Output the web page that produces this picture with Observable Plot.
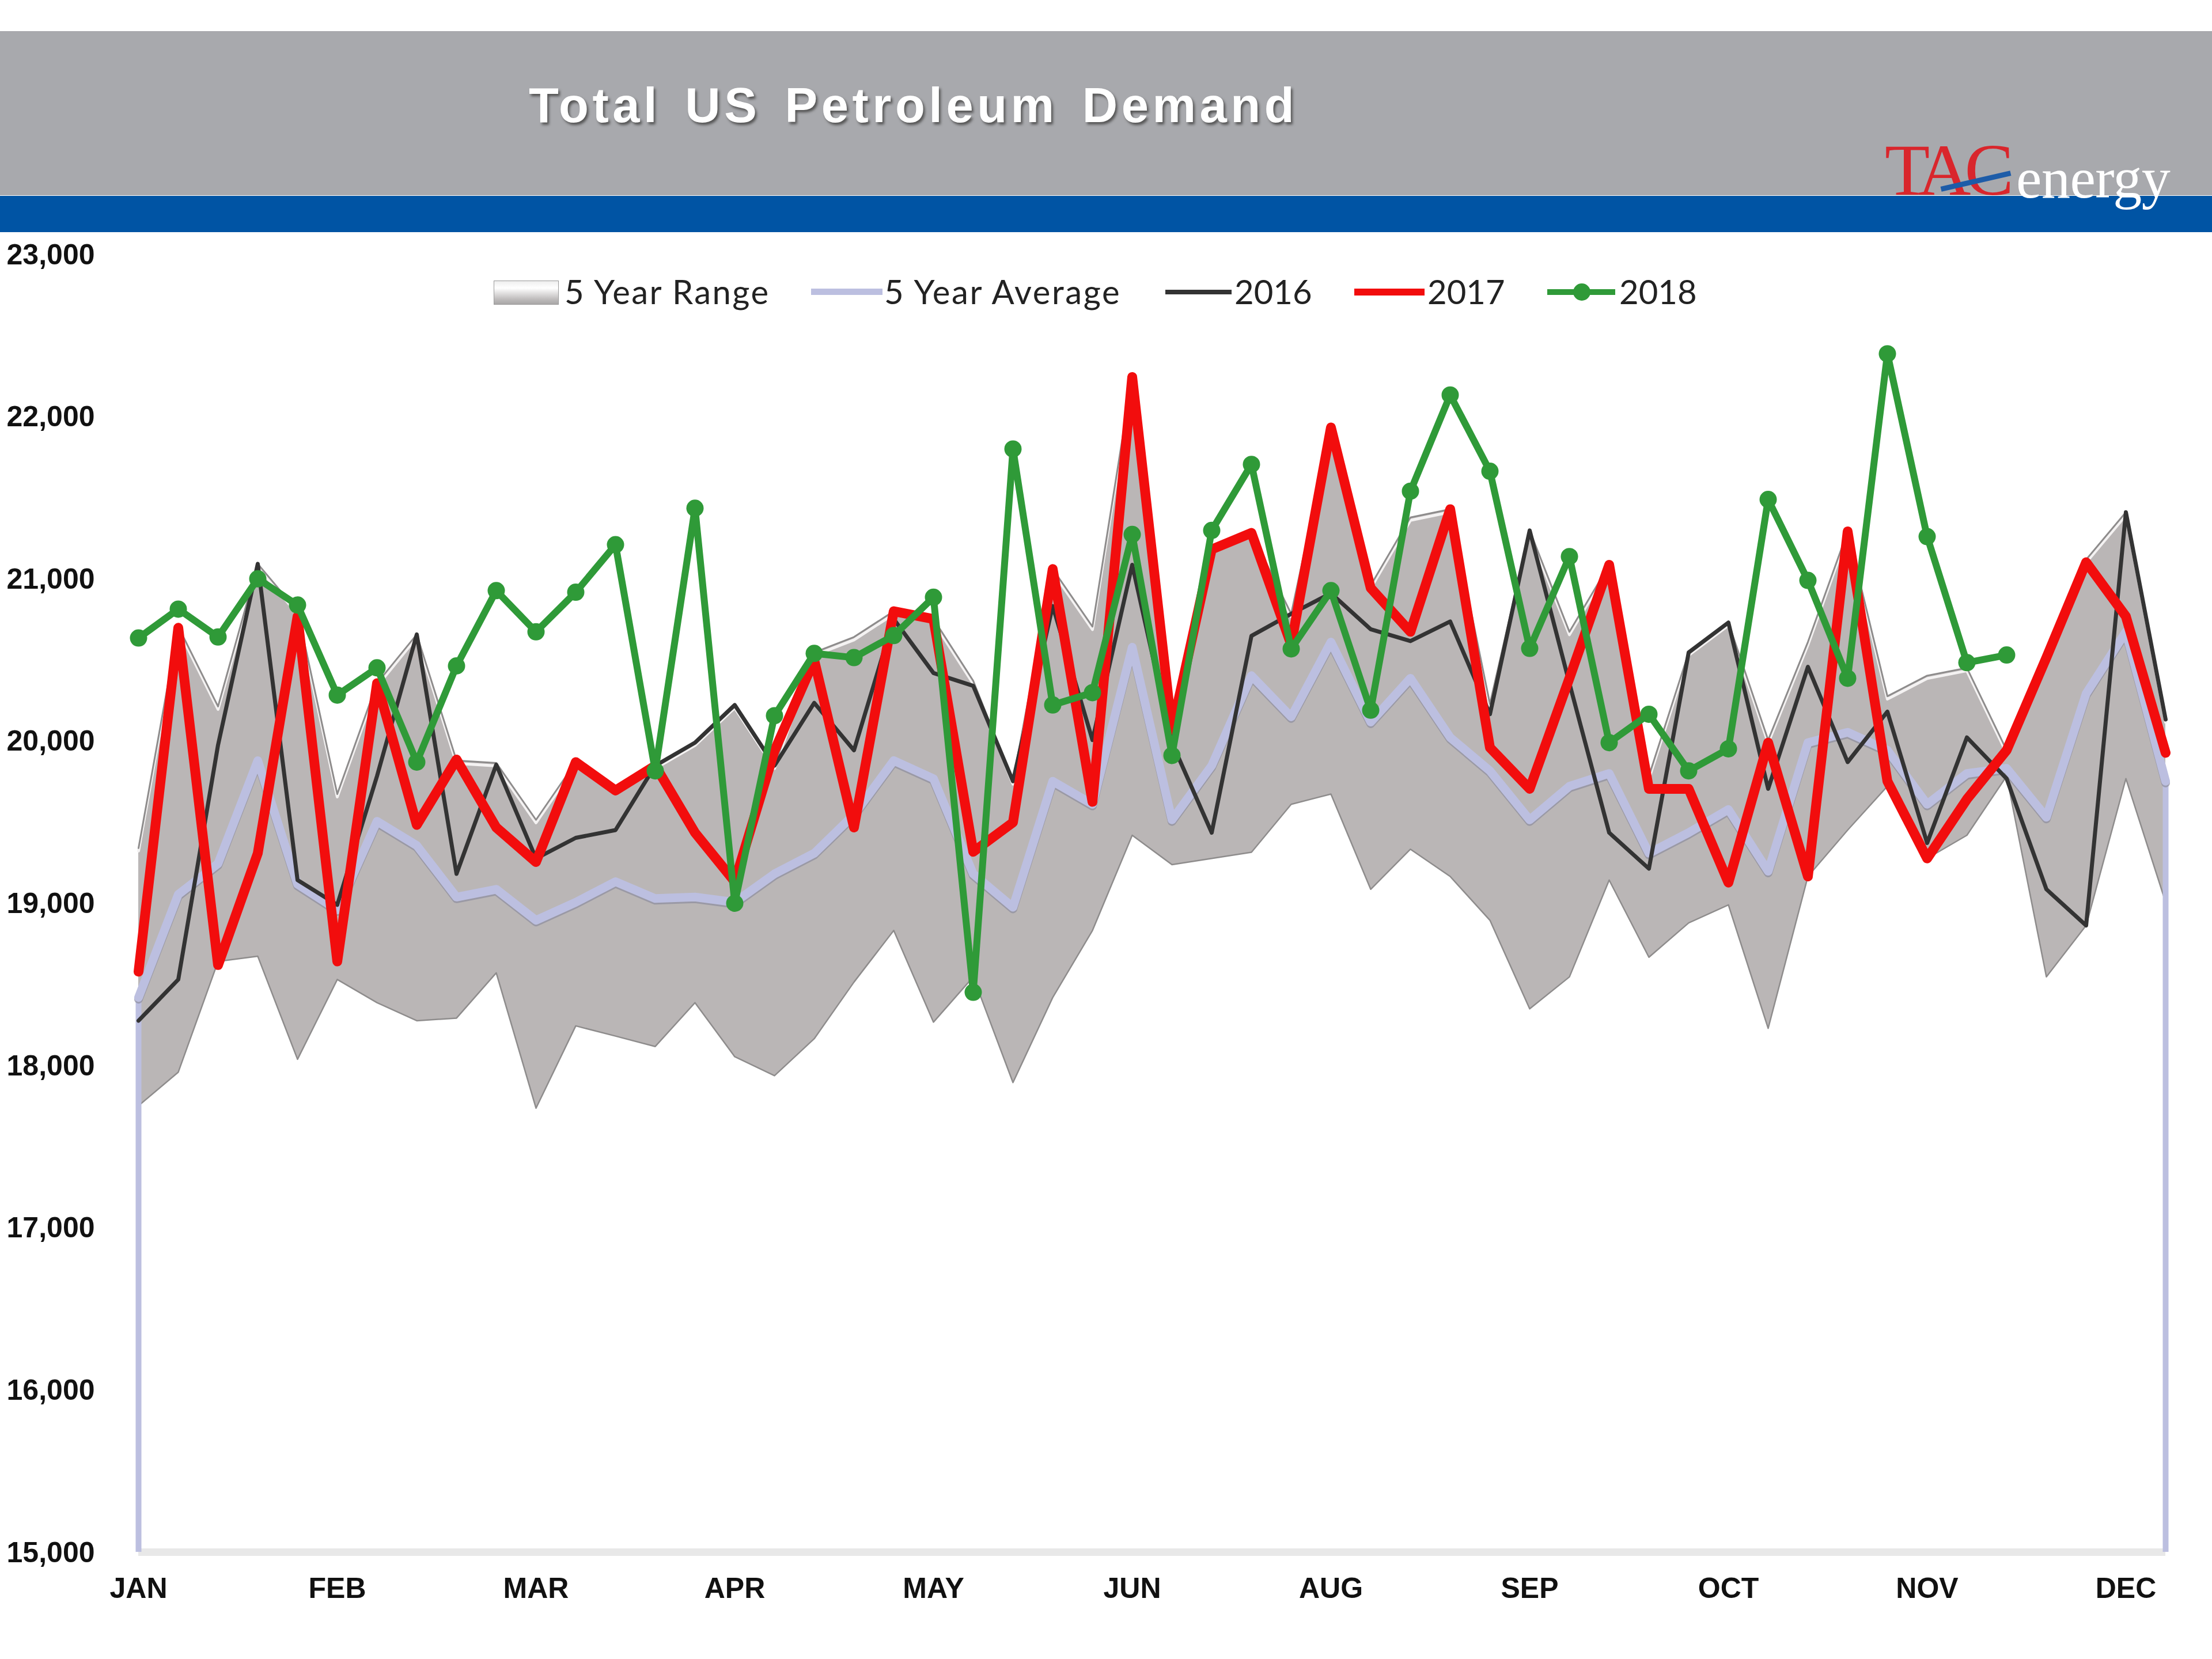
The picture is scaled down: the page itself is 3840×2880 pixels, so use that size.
<!DOCTYPE html>
<html>
<head>
<meta charset="utf-8">
<script src="https://cdn.jsdelivr.net/npm/d3@7"></script>
<script src="https://cdn.jsdelivr.net/npm/@observablehq/plot@0.6"></script>
<style>
  html, body { margin: 0; padding: 0; background: #fff; }
  #page { position: relative; width: 3840px; height: 2880px; overflow: hidden; background: #fff; }
  #band { position: absolute; left: 0; top: 54px; width: 100%; height: 285px; background: #a8a9ad; }
  #stripe { position: absolute; left: 0; top: 340px; width: 100%; height: 63px; background: #0054a4; }
  #title { position: absolute; left: 918px; top: 134px; font: bold 85px "Liberation Sans", sans-serif; color: #fff;
           letter-spacing: 6.5px; word-spacing: 12px; text-shadow: 3px 4px 4px #555; white-space: nowrap; z-index: 3; }
  #logoTac { position: absolute; left: 3272px; top: 222px; font: 128px "Liberation Serif", serif; color: #d9262c;
             letter-spacing: -11px; white-space: nowrap; z-index: 3; }
  #logoEnergy { position: absolute; left: 3500px; top: 252px; font: 100px "Liberation Serif", serif; color: #fff;
                letter-spacing: -0.5px; white-space: nowrap; z-index: 3; }
  #logoSlash { position: absolute; left: 3368px; top: 310px; width: 124px; height: 9px; background: #1d5ca8;
               transform: rotate(-13deg); z-index: 4; }
  #chart { position: absolute; left: 0; top: 403px; z-index: 1; }
  #chart svg { display: block; background: transparent; }
  .leg { position: absolute; top: 464px; height: 84px; font: 58px/84px Lato, sans-serif; color: #222; white-space: nowrap; z-index: 2; }
  .sw { position: absolute; z-index: 2; }
</style>
</head>
<body>
<div id="page">
  <div id="band"></div>
  <div id="stripe"></div>
  <div id="title"></div>
  <div id="logoTac">TAC</div>
  <div id="logoEnergy">energy</div>
  <div id="logoSlash"></div>
  <div id="chart"></div>
</div>
<script>
const chartTitle = "Total US Petroleum Demand";
const monthLabels = ["JAN","FEB","MAR","APR","MAY","JUN","AUG","SEP","OCT","NOV","DEC"];
const monthWeeks  = [0,5,10,15,20,25,30,35,40,45,50];
const yTicks = [15000,16000,17000,18000,19000,20000,21000,22000,23000];

const rangeHigh = [19340,20705,20213,21092,20800,19673,20356,20657,19880,19865,19514,19870,19705,19848,19990,20222,
  19848,20546,20641,20800,20752,20371,19752,21060,20705,22244,20070,21181,21283,20784,21933,20959,21378,21429,
  20229,21298,20673,21086,19784,20546,20730,20006,20610,21292,20276,20403,20451,19943,20514,21118,21410,20133];
const rangeLow = [17752,17959,18641,18673,18038,18530,18387,18276,18292,18571,17737,18244,18181,18117,18387,18054,
  17937,18165,18514,18832,18267,18546,17895,18419,18832,19419,19238,19276,19314,19610,19673,19086,19333,19165,
  18895,18349,18546,19143,18667,18879,18990,18229,19165,19451,19721,19276,19419,19784,18546,18863,19768,19006];
const average5y = [18419,19054,19244,19879,19117,18959,19505,19356,19038,19086,18895,19006,19133,19029,19038,19006,
  19181,19308,19546,19879,19768,19181,18975,19752,19610,20578,19514,19848,20403,20149,20610,20117,20387,20022,
  19816,19514,19721,19800,19308,19435,19578,19197,19990,20054,19943,19610,19800,19832,19530,20292,20673,19752];
const y2016 = [18276,18530,19975,21092,19143,18990,19784,20657,19181,19854,19276,19403,19451,19848,19990,20222,
  19848,20235,19943,20752,20419,20340,19752,20832,20006,21086,19990,19435,20648,20784,20911,20689,20616,20737,
  20165,21298,20356,19435,19213,20546,20730,19705,20457,19870,20181,19371,20022,19768,19086,18863,21410,20133];
const y2017 = [18578,20698,18619,19308,20768,18641,20356,19483,19886,19467,19254,19870,19695,19848,19435,19133,
  19940,20498,19467,20800,20752,19317,19498,21060,19625,22244,20070,21181,21283,20594,21933,20943,20673,21429,
  19959,19705,20387,21086,19705,19705,19127,19990,19165,21292,19752,19276,19641,19943,20514,21102,20768,19927];
const y2018 = [20635,20813,20641,21000,20838,20283,20451,19870,20463,20927,20673,20917,21210,19816,21435,19000,
  20156,20540,20514,20650,20886,18451,21800,20222,20298,21273,19911,21298,21705,20568,20927,20190,21540,22133,
  21663,20571,21137,19990,20165,19816,19952,21489,20990,20387,22387,21260,20483,20530];

const seriesLabels = ["5 Year Range","5 Year Average","2016","2017","2018"];
const colors = {range:"#bab6b6", rangeEdge:"#8e8c8c", avg:"#bcbfe0", avgEdge:"#8d8d9e", y16:"#333333", y17:"#f20d0d", y18:"#2f9a38", base:"#e8e8e8"};

const idx = (d,i) => i;
const val = d => d;
const band = rangeLow.map((lo,i) => ({w:i, lo, hi:rangeHigh[i]}));
const edges = [0, average5y.length-1].map(w => ({w, y1:yTicks[0], y2:average5y[w]}));

document.getElementById("title").textContent = chartTitle;

const plot = Plot.plot({
  width: 3840, height: 2477,
  marginTop: 38, marginBottom: 186, marginLeft: 240, marginRight: 81,
  x: {domain:[0,51], axis:null},
  y: {domain:[15000,23000], axis:null},
  marks: [
    Plot.ruleY([15000], {stroke:colors.base, strokeWidth:13}),
    Plot.areaY(band, {x:"w", y1:"lo", y2:"hi", fill:colors.range, curve:"linear"}),
    Plot.line(band, {x:"w", y:"hi", stroke:"#f4f2f2", strokeWidth:5, dy:5}),
    Plot.line(band, {x:"w", y:"hi", stroke:colors.rangeEdge, strokeWidth:3}),
    Plot.line(band, {x:"w", y:"lo", stroke:colors.rangeEdge, strokeWidth:2.5}),
    Plot.ruleX(edges, {x:"w", y1:"y1", y2:"y2", stroke:colors.avg, strokeWidth:10}),
    Plot.line(average5y, {x:idx, y:val, stroke:colors.avgEdge, strokeWidth:15, dy:3, strokeOpacity:0.7}),
    Plot.line(average5y, {x:idx, y:val, stroke:colors.avg, strokeWidth:15}),
    Plot.line(y2016, {x:idx, y:val, stroke:colors.y16, strokeWidth:7}),
    Plot.line(y2017, {x:idx, y:val, stroke:colors.y17, strokeWidth:17}),
    Plot.line(y2018, {x:idx, y:val, stroke:colors.y18, strokeWidth:12}),
    Plot.dot(y2018, {x:idx, y:val, r:15, fill:colors.y18}),
    Plot.axisY({ticks:yTicks, tickSize:0, tickPadding:76, tickFormat:d3.format(","), fontSize:50, fontWeight:"bold",
                fontFamily:"Liberation Sans", fill:"#111", label:null, dy:1}),
    Plot.axisX({ticks:monthWeeks, tickSize:0, tickPadding:44, tickFormat:w => monthLabels[monthWeeks.indexOf(w)], fontSize:50, fontWeight:"bold",
                fontFamily:"Liberation Sans", fill:"#111", label:null})
  ]
});
document.getElementById("chart").appendChild(plot);

// Legend, laid over the top of the plot area as in the reference
const page = document.getElementById("page");
const textLefts = [980,1535,2143,2478,2811];
const textSpacing = [2.4,2.6,0,0,0];
seriesLabels.forEach((t,i) => {
  const el = document.createElement("div");
  el.className = "leg";
  el.style.left = textLefts[i] + "px";
  el.style.letterSpacing = textSpacing[i] + "px";
  el.textContent = t;
  page.appendChild(el);
});
function sw(css){ const e=document.createElement("div"); e.className="sw"; e.style.cssText=css; page.appendChild(e); return e; }
sw(`left:857px;top:487px;width:111px;height:40px;background:linear-gradient(#eeeeee 0%,#fff 30%,#bdbaba 80%,#a9a7a7 100%);border:1px solid #9a9a9a;`);
sw(`left:1408px;top:501px;width:124px;height:11px;background:${colors.avg};`);
sw(`left:2023px;top:503px;width:115px;height:8px;background:${colors.y16};`);
sw(`left:2351px;top:501px;width:122px;height:12px;background:${colors.y17};`);
sw(`left:2686px;top:502px;width:118px;height:10px;background:${colors.y18};`);
sw(`left:2731px;top:492px;width:30px;height:30px;border-radius:50%;background:${colors.y18};`);
</script>
</body>
</html>
